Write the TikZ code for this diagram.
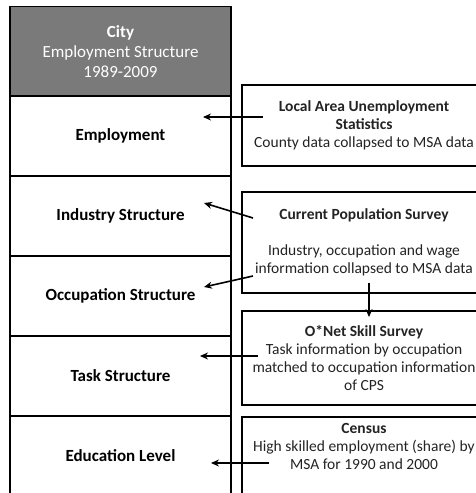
\documentclass[tikz,border=0pt]{standalone}
\usepackage{fontspec}
\setmainfont{Carlito}
\usetikzlibrary{arrows.meta}
\definecolor{hdrgray}{RGB}{122,122,122}
\definecolor{txtgray}{RGB}{35,35,35}
\begin{document}
\begin{tikzpicture}[x=1pt,y=-1pt,
  leftbox/.style={draw=black, line width=1.6pt, minimum width=221pt, minimum height=80pt, inner sep=0pt, align=center, font=\fontsize{17}{20}\selectfont\bfseries},
  headbox/.style={leftbox, fill=hdrgray, text=white, minimum height=90pt, font=\fontsize{17}{20}\selectfont},
  srcbox/.style={draw=black, line width=1.6pt, minimum width=244pt, inner sep=0pt, align=center, text=txtgray, font=\fontsize{15.5}{18}\selectfont},
  arr/.style={-{Stealth[length=8pt,width=7pt]}, line width=1.6pt}]
\useasboundingbox (0,0) rectangle (476,493);
\clip (0,0) rectangle (476,493);
% left column
\node[headbox] (hdr) at (120.5,51.5) {\textbf{City}\\Employment Structure\\1989-2009};
\node[leftbox] (emp) at (120.5,136) {Employment};
\node[leftbox] (ind) at (120.5,216) {Industry Structure};
\node[leftbox] (occ) at (120.5,296) {Occupation Structure};
\node[leftbox] (task) at (120.5,376) {Task Structure};
\node[leftbox] (edu) at (120.5,456) {Education Level};
% right column
\node[srcbox, minimum height=81pt] (laus) at (364,125.5) {\textbf{Local Area Unemployment}\\\textbf{Statistics}\\County data collapsed to MSA data};
\node[srcbox, minimum height=101pt] (cps) at (364,242.5) {\textbf{Current Population  Survey}\\[18pt]Industry, occupation and wage\\information collapsed to MSA data};
\node[srcbox, minimum height=94pt] (onet) at (364,358) {\textbf{O*Net Skill Survey}\\Task information by occupation\\matched to occupation information\\of CPS};
\node[srcbox, minimum height=100pt, anchor=north] (cen) at (364,416) {};
\node[align=center, text=txtgray, font=\fontsize{15.5}{18}\selectfont, anchor=north, inner sep=0pt] (centxt) at (364,423) {\textbf{Census}\\High skilled employment  (share) by\\MSA for 1990 and 2000};
% arrow end points
\coordinate (a1s) at (263,117); \coordinate (a1e) at (203,117);
\coordinate (a2s) at (253,218); \coordinate (a2e) at (204,203);
\coordinate (a3s) at (253,276); \coordinate (a3e) at (204,287);
\coordinate (a4s) at (369,283); \coordinate (a4e) at (369,317);
\coordinate (a5s) at (258,356); \coordinate (a5e) at (200,356);
\coordinate (a6s) at (269,463); \coordinate (a6e) at (211,463);
\draw[arr] (a1s) -- (a1e);
\draw[arr] (a2s) -- (a2e);
\draw[arr] (a3s) -- (a3e);
\draw[arr] (a4s) -- (a4e);
\draw[arr] (a5s) -- (a5e);
\draw[arr] (a6s) -- (a6e);
\end{tikzpicture}
\end{document}
